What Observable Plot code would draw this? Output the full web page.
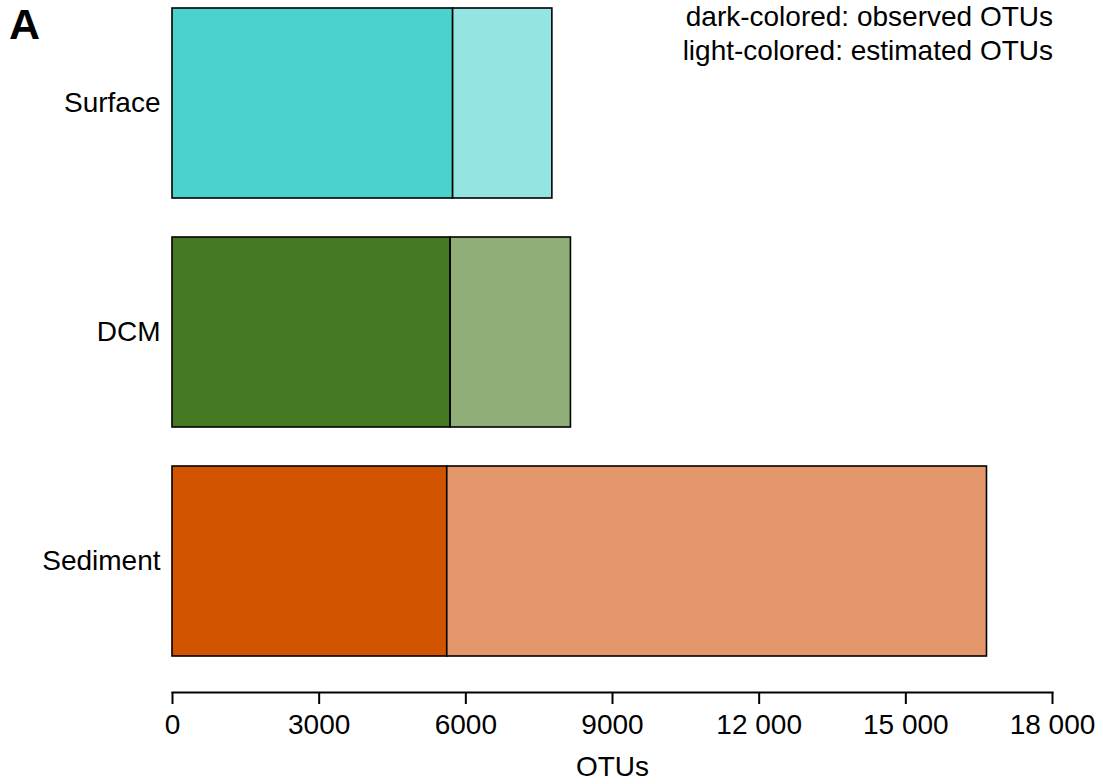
<!DOCTYPE html>
<html>
<head>
<meta charset="utf-8">
<script src="https://cdn.jsdelivr.net/npm/d3@7"></script>
<script src="https://cdn.jsdelivr.net/npm/@observablehq/plot@0.6"></script>
<style>
  html, body { margin: 0; padding: 0; background: #fff; }
  #wrap { position: relative; width: 1103px; height: 784px; font-family: "Liberation Sans", Arial, sans-serif; }
  #panel { position: absolute; left: 9px; top: 3px; font-size: 43px; font-weight: bold; line-height: 1; }
  #note { position: absolute; right: 50px; top: 0px; font-size: 28px; line-height: 34px; text-align: right; }
</style>
</head>
<body>
<div id="wrap">
  <div id="chart"></div>
  <div id="panel">A</div>
  <div id="note">dark-colored: observed OTUs<br>light-colored: estimated OTUs</div>
</div>
<script>
const categories = ["Surface", "DCM", "Sediment"];
const observed = [5740, 5690, 5620];
const estimated = [7770, 8150, 16660];
const xTicks = [0, 3000, 6000, 9000, 12000, 15000, 18000];
const darkColors = ["#4bd2cc", "#467a22", "#d35400"];
const lightColors = ["#94e4e1", "#8fae78", "#e4976a"];

const rows = [];
const keys = [];
const palette = [];
categories.forEach((c, i) => {
  rows.push({site: c, key: c + " observed", x1: 0, x2: observed[i]});
  rows.push({site: c, key: c + " estimated", x1: observed[i], x2: estimated[i]});
  keys.push(c + " observed", c + " estimated");
  palette.push(darkColors[i], lightColors[i]);
});

const fmt = d => d >= 10000 ? d3.format(",")(d).replace(/,/g, " ") : String(d);

const chart = Plot.plot({
  width: 1103,
  height: 784,
  marginLeft: 172,
  marginRight: 51,
  marginTop: 7,
  marginBottom: 92,
  style: {fontFamily: "'Liberation Sans', Arial, sans-serif", background: "transparent"},
  x: {domain: [0, 18000]},
  y: {domain: categories, range: [7, 656], paddingInner: 0.172, paddingOuter: 0},
  color: {domain: keys, range: palette},
  marks: [
    Plot.barX(rows, {y: "site", x1: "x1", x2: "x2", fill: "key", stroke: "black", strokeWidth: 1.6}),
    Plot.frame({anchor: "bottom", strokeWidth: 2}),
    Plot.axisX({ticks: xTicks, tickFormat: fmt, tickSize: 12, tickPadding: 10, strokeWidth: 2, fontSize: 28,
      label: "OTUs", labelAnchor: "center", labelOffset: 83, labelArrow: "none"}),
    Plot.axisY({tickSize: 0, tickPadding: 12, fontSize: 28, label: null})
  ]
});
document.getElementById("chart").appendChild(chart);
</script>
</body>
</html>
